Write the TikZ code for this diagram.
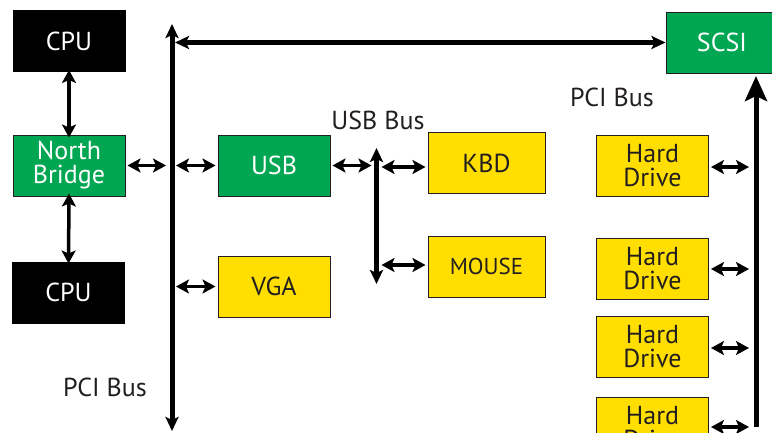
\documentclass[tikz,border=0pt]{standalone}
\usepackage{fontspec}
\setmainfont{PT Sans}
\usetikzlibrary{arrows.meta, positioning}
\definecolor{verdeBus}{HTML}{00A651}
\definecolor{amarilloDev}{HTML}{FFDE00}
\definecolor{grisTexto}{HTML}{231F20}

\begin{document}
\begin{tikzpicture}[
    x=1pt, y=-1pt,
    box/.style={rectangle, draw=grisTexto, line width=1pt, minimum width=112pt, minimum height=61pt, align=center, inner sep=0pt, font=\fontsize{26}{24}\selectfont},
    cpubox/.style={box, draw=black, fill=black, text=white},
    greenbox/.style={box, fill=verdeBus, text=white},
    yellowbox/.style={box, fill=amarilloDev, text=grisTexto},
    etiqueta/.style={text=grisTexto, font=\fontsize{26}{26}\selectfont},
    bus/.style={line width=5pt},
    flecha/.style={{Stealth[length=13pt, width=14pt, inset=3pt]}-{Stealth[length=13pt, width=14pt, inset=3pt]}, line width=3.5pt}
]
    \useasboundingbox (0,0) rectangle (772,432);
    \clip (0,0) rectangle (772,432);

    % left side
    \node[cpubox] (cpu1) at (69,41) {CPU};
    \node[greenbox] (nb) at (69,165.5) {North\\Bridge};
    \node[cpubox] (cpu2) at (68.5,292.5) {CPU};

    % pci bus (left)
    \coordinate (pciTop) at (172,24);
    \coordinate (pciBot) at (172,431);
    \draw[bus, {Stealth[length=14pt, width=13pt, inset=3pt]}-{Stealth[length=14pt, width=13pt, inset=3pt]}] (pciTop) -- (pciBot);
    \node[etiqueta] (pciL) at (105,387) {PCI Bus};

    % devices on pci
    \node[greenbox] (usb) at (274,165.5) {USB};
    \node[yellowbox] (vga) at (274,286.5) {VGA};
    \node[greenbox] (scsi) at (722,42.5) {SCSI};

    % usb bus
    \coordinate (usbTop) at (376.5,148);
    \coordinate (usbBot) at (376.5,284);
    \draw[bus, {Stealth[length=14pt, width=13pt, inset=3pt]}-{Stealth[length=14pt, width=13pt, inset=3pt]}] (usbTop) -- (usbBot);
    \node[etiqueta] (usbL) at (378,120) {USB Bus};
    \node[yellowbox, minimum width=117pt] (kbd) at (486.5,163) {KBD};
    \node[yellowbox, minimum width=117pt, font=\fontsize{23}{23}\selectfont] (mouse) at (486.5,266.5) {MOUSE};

    % hard drives + pci bus (right)
    \node[yellowbox] (hd1) at (652.5,165.5) {Hard\\Drive};
    \node[yellowbox] (hd2) at (652.5,268.5) {Hard\\Drive};
    \node[yellowbox] (hd3) at (652.5,346.5) {Hard\\Drive};
    \node[yellowbox] (hd4) at (652.5,427.5) {Hard\\Drive};
    \node[etiqueta] (pciR) at (612,97) {PCI Bus};
    \coordinate (pciRTop) at (756,76);
    \coordinate (pciRBot) at (756,427);
    \draw[bus, -{Stealth[length=25pt, width=22pt, inset=5pt]}] (pciRBot) -- (pciRTop);

    % connections
    \draw[flecha] ([yshift=2pt]cpu1.south) -- ([yshift=-3pt]nb.north);
    \draw[flecha] ([yshift=3pt]nb.south) -- ([yshift=-2pt]cpu2.north);
    \draw[flecha] ([xshift=2pt]nb.east) -- ([xshift=-6pt]nb.east -| pciTop);
    \draw[flecha] ([xshift=4pt]usb.west -| pciTop) -- ([xshift=-2pt]usb.west);
    \draw[flecha] ([xshift=4pt]vga.west -| pciTop) -- ([xshift=-2pt]vga.west);
    \draw[bus, {Stealth[length=14pt, width=13pt, inset=3pt]}-{Stealth[length=14pt, width=13pt, inset=3pt]}] ([xshift=3pt]scsi.west -| pciTop) -- (scsi.west);
    \draw[flecha] ([xshift=2pt]usb.east) -- ([xshift=-5pt]usb.east -| usbTop);
    \draw[flecha] ([xshift=5pt]usbTop |- 0,167) -- ([xshift=-2pt]kbd.west |- 0,167);
    \draw[flecha] ([xshift=5pt]usbTop |- 0,265) -- ([xshift=-2pt]mouse.west |- 0,265);
    \foreach \d/\yy in {hd1/167, hd2/269, hd3/348, hd4/427} {
        \draw[flecha] ([xshift=2pt]\d.east |- 0,\yy) -- ([xshift=-7pt]pciRTop |- 0,\yy);
    }
\end{tikzpicture}
\end{document}
